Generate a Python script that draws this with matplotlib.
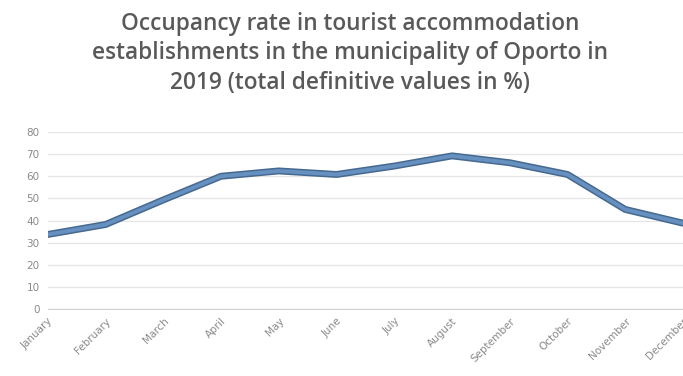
import matplotlib
matplotlib.use("Agg")
import matplotlib.pyplot as plt

# --- Occupancy rate (%) by month, Oporto 2019 ---
months = ["January", "February", "March", "April", "May", "June",
          "July", "August", "September", "October", "November", "December"]
occupancy = [33.7, 38.2, 49.3, 60.0, 62.4, 60.8, 64.6, 69.2, 66.1, 60.8, 45.0, 38.8]

y_ticks = [0, 10, 20, 30, 40, 50, 60, 70, 80]

grey = "#595959"

fig = plt.figure(figsize=(6.83, 3.76), dpi=100)
ax = fig.add_axes([0.070, 0.178, 0.930, 0.471])

x = list(range(len(months)))
ax.plot(x, occupancy, color="#46698f", linewidth=5.0,
        solid_joinstyle="round", solid_capstyle="round", zorder=3)
ax.plot(x, occupancy, color="#6690c0", linewidth=2.8,
        solid_joinstyle="round", solid_capstyle="round", zorder=4)

ax.set_xlim(0, len(months) - 1)
ax.set_ylim(0, 80)
ax.set_yticks(y_ticks)
ax.set_yticklabels([str(v) for v in y_ticks], color="#8a8a8a", fontsize=7.5)
ax.set_xticks(x)
ax.set_xticklabels(months, rotation=45, ha="right", va="top",
                   rotation_mode="anchor", color="#8a8a8a", fontsize=7.5)

ax.grid(axis="y", color="#e6e6e6", linewidth=0.9)
ax.set_axisbelow(True)
for side in ["top", "right", "left"]:
    ax.spines[side].set_visible(False)
ax.spines["bottom"].set_color("#d0d0d0")
ax.tick_params(axis="y", length=0, pad=6)
ax.tick_params(axis="x", length=0, pad=5)

fig.text(0.512, 0.968,
         "Occupancy rate in tourist accommodation\n"
         "establishments in the municipality of Oporto in\n"
         "2019 (total definitive values in %)",
         ha="center", va="top", fontsize=16.3, color=grey,
         family="Open Sans", fontweight="semibold", linespacing=1.3)

fig.savefig("out.png", dpi=100)
